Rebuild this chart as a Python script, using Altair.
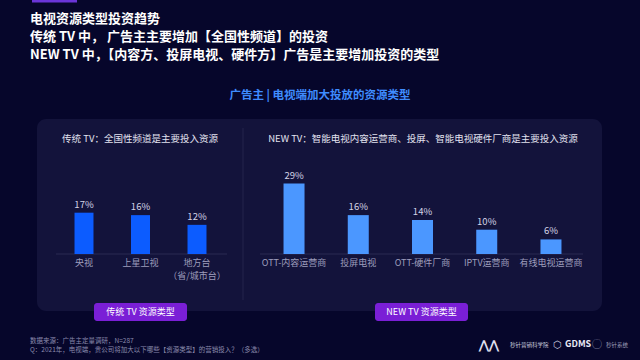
import altair as alt
import pandas as pd

FONT = "Noto Sans CJK SC"

header_lines = [
    "电视资源类型投资趋势",
    "传统 TV 中， 广告主主要增加【全国性频道】的投资",
    "NEW TV 中，【内容方、投屏电视、硬件方】广告是主要增加投资的类型",
]
center_title = "广告主 | 电视端加大投放的资源类型"
left_subtitle = "传统 TV：全国性频道是主要投入资源"
right_subtitle = "NEW  TV：智能电视内容运营商、投屏、智能电视硬件厂商是主要投入资源"
left_button = "传统 TV 资源类型"
right_button = "NEW   TV 资源类型"
footer_lines = [
    "数据来源：广告主定量调研，N=287",
    "Q：2021年，电视端，贵公司将加大以下哪些【资源类型】的营销投入？（多选）",
]

left_cats = ["央视", "上星卫视", "地方台"]
left_labels = ["央视", "上星卫视", "地方台\n（省/城市台）"]
left_vals = [17, 16, 12]

right_cats = ["OTT-内容运营商", "投屏电视", "OTT-硬件厂商", "IPTV运营商", "有线电视运营商"]
right_vals = [29, 16, 14, 10, 6]

left_df = pd.DataFrame({"c": left_cats, "lab": left_labels, "v": left_vals,
                        "pct": [f"{v}%" for v in left_vals]})
right_df = pd.DataFrame({"c": right_cats, "lab": right_cats, "v": right_vals,
                         "pct": [f"{v}%" for v in right_vals]})
dummy = pd.DataFrame({"a": [0]})

BG = "#06062b"
PANEL = "#13133b"
LABEL_C = "#9d9dbb"

def txt(s, x, y, size, color, weight="normal", align="left"):
    return alt.Chart(dummy).mark_text(
        text=s, align=align, baseline="middle", fontSize=size, color=color,
        fontWeight=weight, font=FONT
    ).encode(x=alt.value(x), y=alt.value(y))

def rect(x, x2, y, y2, color, r=0, opacity=1):
    return alt.Chart(dummy).mark_rect(color=color, cornerRadius=r, opacity=opacity).encode(
        x=alt.value(x), x2=alt.value(x2), y=alt.value(y), y2=alt.value(y2))

def rule(x, x2, y, y2, color, w=1):
    return alt.Chart(dummy).mark_rule(color=color, strokeWidth=w).encode(
        x=alt.value(x), x2=alt.value(x2), y=alt.value(y), y2=alt.value(y2))

yscale = alt.Scale(domain=[0, 100], range=[254, 11])

def group(df, cats, rng, pi, po, color):
    xs = alt.X("c:N", sort=cats, scale=alt.Scale(domain=cats, range=rng,
               paddingInner=pi, paddingOuter=po), axis=None)
    base = alt.Chart(df)
    bars = base.mark_bar(color=color).encode(
        x=xs, y=alt.Y("v:Q", scale=yscale, axis=None), y2=alt.datum(0))
    vals = base.mark_text(baseline="bottom", dy=-3, fontSize=9.5, color="#d4d4e6",
                          font=FONT).encode(
        x=xs, y=alt.Y("v:Q", scale=yscale, axis=None), text="pct:N")
    labs = base.mark_text(baseline="top", fontSize=9, color=LABEL_C, font=FONT,
                          lineBreak="\n", lineHeight=12.5).encode(
        x=xs, y=alt.value(259), text="lab:N")
    return alt.layer(bars, vals, labs)

left_group = group(left_df, left_cats, [55.75, 225.25], 0.664, 0.332, "#0c5cff")
right_group = group(right_df, right_cats, [261.9, 583.1], 0.673, 0.3366, "#4b97ff")

deco = [
    rect(32, 77, 0, 2.5, "#6a35d8"),
    rect(37, 602, 119, 311, PANEL, r=9),
    rule(243, 243, 128, 300, "#24244c"),
    rule(56, 227, 254, 254, "#2a2a52"),
    rule(260, 583, 254, 254, "#2a2a52"),
    txt(header_lines[0], 30, 19, 13, "#ffffff", "bold"),
    txt(header_lines[1], 30, 37, 13, "#ffffff", "bold"),
    txt(header_lines[2], 30, 55, 13, "#ffffff", "bold"),
    txt(center_title, 320, 96, 11.5, "#3f8cff", "bold", "center"),
    txt(left_subtitle, 140, 139, 9.5, "#e2e2ef", "normal", "center"),
    txt(right_subtitle, 423, 139, 9.5, "#e2e2ef", "normal", "center"),
    rect(94, 187, 303, 321, "#7a1fd6", r=3),
    rect(375, 468, 303, 321, "#7a1fd6", r=3),
    txt(left_button, 140.5, 312, 9, "#ffffff", "normal", "center"),
    txt(right_button, 421.5, 312, 9, "#ffffff", "normal", "center"),
    txt(footer_lines[0], 30, 341, 6.5, "#8a8aab"),
    txt(footer_lines[1], 30, 350, 6.5, "#8a8aab"),
    txt("⋀⋀", 479, 345, 12, "#e0e0f0", "bold"),
    txt("秒针营销科学院", 510, 345, 5.5, "#c8c8dc"),
    txt("⬡", 553, 345, 10, "#c8c8dc"),
    txt("GDMS", 565, 344, 9, "#e8e8f4", "bold"),
    txt("◯", 592, 345, 10, "#9a9ab5"),
    txt("秒针系统", 606, 345, 5.5, "#9a9ab5"),
]

chart = alt.layer(*deco, left_group, right_group).resolve_scale(
    x="independent"
).properties(
    width=640, height=360, padding=0,
    autosize=alt.AutoSizeParams(type="none"),
    background=BG,
).configure_view(stroke=None)

chart.save("out.html", embed_options={"renderer": "svg", "actions": False})
